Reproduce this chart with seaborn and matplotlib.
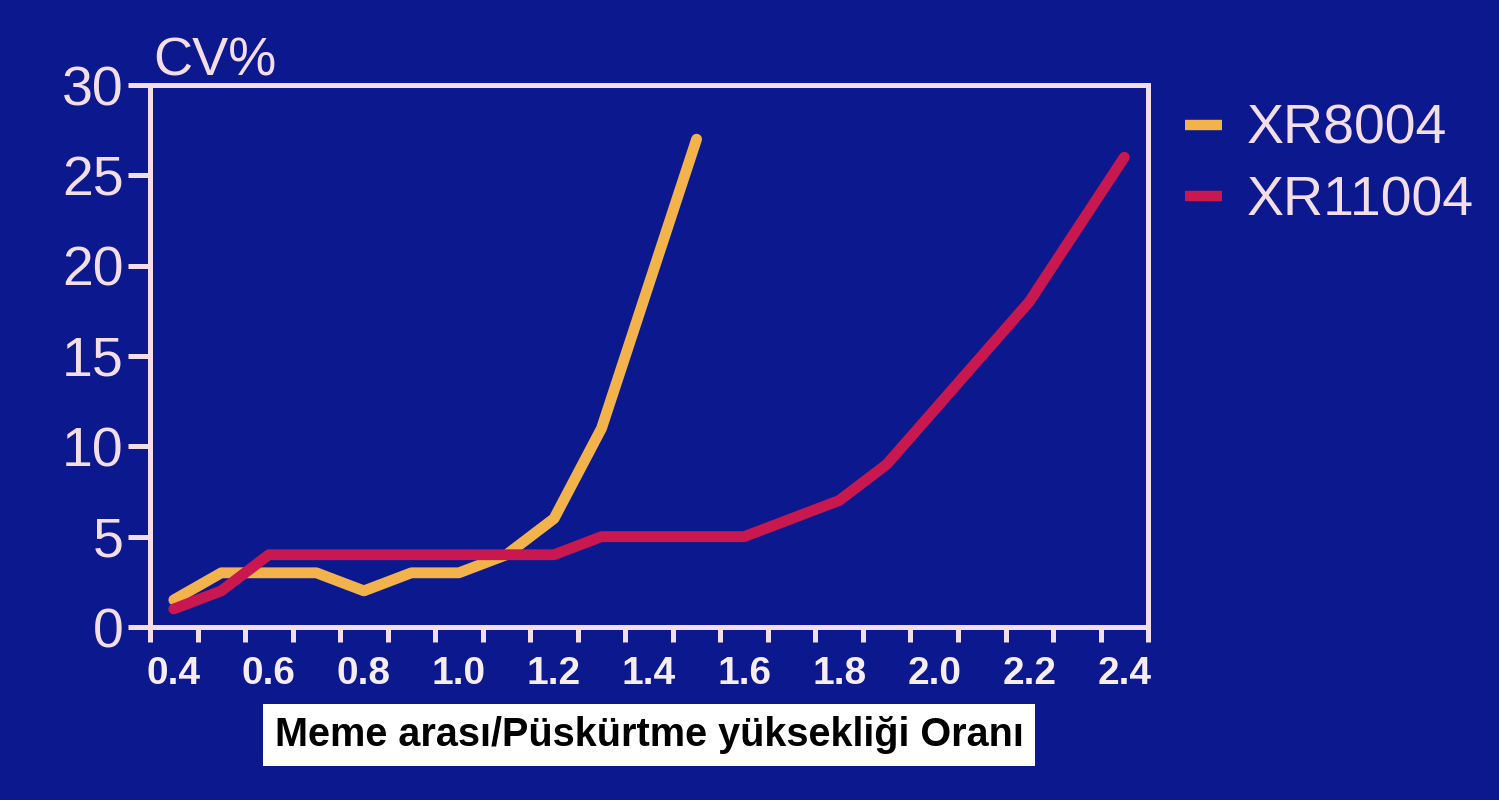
import numpy as np
import pandas as pd
import matplotlib.pyplot as plt
import seaborn as sns

# CV% against nozzle spacing / spray height ratio
ratio_xr8004 = [0.4, 0.5, 0.6, 0.7, 0.8, 0.9, 1.0, 1.1, 1.2, 1.3, 1.4, 1.5]
cv_xr8004 = [1.5, 3, 3, 3, 2, 3, 3, 4, 6, 11, 19, 27]

ratio_xr11004 = [0.4, 0.5, 0.6, 0.7, 0.8, 0.9, 1.0, 1.1, 1.2, 1.3, 1.4,
                 1.5, 1.6, 1.7, 1.8, 1.9, 2.0, 2.1, 2.2, 2.3, 2.4]
cv_xr11004 = [1, 2, 4, 4, 4, 4, 4, 4, 4, 5, 5,
              5, 5, 6, 7, 9, 12, 15, 18, 22, 26]

nozzles = ["XR8004", "XR11004"]
x_ticks = [0.4, 0.6, 0.8, 1.0, 1.2, 1.4, 1.6, 1.8, 2.0, 2.2, 2.4]
x_ticklabels = ["0.4", "0.6", "0.8", "1.0", "1.2", "1.4", "1.6", "1.8", "2.0", "2.2", "2.4"]
y_ticks = [0, 5, 10, 15, 20, 25, 30]

bg = "#0c198e"
fg = "#f2dde9"
palette = {"XR8004": "#f3b34c", "XR11004": "#c8184f"}


def main():
    sns.set_style("ticks")
    plt.rcParams["font.family"] = ["Liberation Sans", "DejaVu Sans"]

    df = pd.concat([
        pd.DataFrame({"ratio": ratio_xr8004, "cv": cv_xr8004, "nozzle": nozzles[0]}),
        pd.DataFrame({"ratio": ratio_xr11004, "cv": cv_xr11004, "nozzle": nozzles[1]}),
    ])

    fig = plt.figure(figsize=(14.99, 8), dpi=100, facecolor=bg)
    ax = fig.add_axes([0.1001, 0.21625, 0.6658, 0.6775])
    ax.set_facecolor(bg)

    sns.lineplot(data=df, x="ratio", y="cv", hue="nozzle", hue_order=nozzles,
                 palette=palette, linewidth=7.8, ax=ax, legend=True)

    ax.set_xlim(0.35, 2.45)
    ax.set_ylim(0, 30)

    # spines and ticks in the slide's pale pink
    for s in ax.spines.values():
        s.set_color(fg)
        s.set_linewidth(3.6)

    ax.set_xticks(x_ticks)
    ax.set_xticklabels(x_ticklabels)
    ax.set_xticks(np.arange(0.35, 2.46, 0.1), minor=True)
    ax.tick_params(axis="x", which="major", length=0, pad=21,
                   labelsize=28, labelcolor="#f6ecf3")
    ax.tick_params(axis="x", which="minor", length=11, width=3.6, color=fg,
                   direction="out")
    for t in ax.get_xticklabels():
        t.set_fontweight("bold")

    ax.set_yticks(y_ticks)
    ax.tick_params(axis="y", length=16, width=3.6, color=fg, pad=3,
                   labelsize=40, labelcolor=fg)

    ax.set_ylabel("CV%", rotation=0, fontsize=39, color=fg,
                  ha="left", va="baseline")
    ax.yaxis.set_label_coords(0.003, 1.018)

    ax.set_xlabel("Meme arası/Püskürtme yüksekliği Oranı", fontsize=28.5,
                  fontweight="bold", color="black", labelpad=17,
                  bbox=dict(boxstyle="square,pad=0.3", fc="white", ec="none"))

    leg = ax.legend(loc="upper left", bbox_to_anchor=(1185 / 1499, 0.87),
                    bbox_transform=fig.transFigure, frameon=False,
                    fontsize=40, handlelength=0.66, handletextpad=0.45,
                    labelspacing=0.35, borderpad=0, borderaxespad=0)
    for h in leg.legend_handles:
        h.set_linewidth(7.5)
        h.set_solid_capstyle("butt")
    for t in leg.get_texts():
        t.set_color(fg)

    fig.savefig("out.png", dpi=100, facecolor=bg)


if __name__ == "__main__":
    main()
